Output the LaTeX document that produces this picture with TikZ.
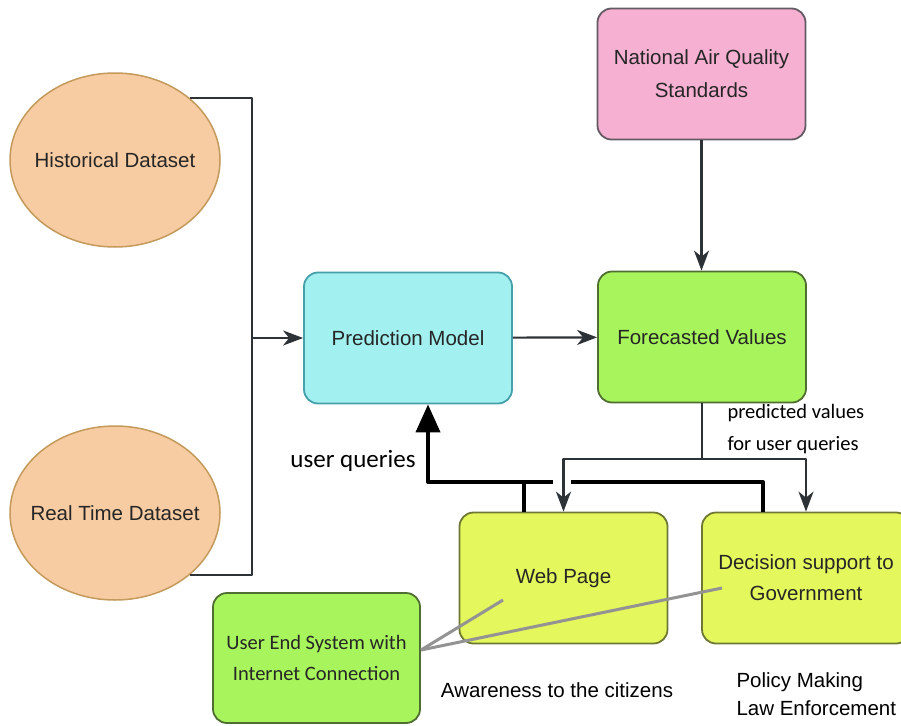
\documentclass[tikz,border=0pt]{standalone}
\usepackage{fontspec}
\setmainfont{Liberation Sans}
\newfontfamily\carl{Carlito}
\usepackage{tikz}
\usetikzlibrary{shapes.geometric,arrows.meta,calc}
\definecolor{peachf}{RGB}{248,204,162}
\definecolor{peachd}{RGB}{196,154,92}
\definecolor{cyanf}{RGB}{162,240,240}
\definecolor{cyand}{RGB}{70,160,170}
\definecolor{limef}{RGB}{168,244,92}
\definecolor{limed}{RGB}{80,110,50}
\definecolor{pinkf}{RGB}{245,176,210}
\definecolor{pinkd}{RGB}{100,90,100}
\definecolor{yelf}{RGB}{228,247,92}
\definecolor{yeld}{RGB}{110,120,50}
\definecolor{lnk}{RGB}{45,50,55}
\tikzset{l/.style={font=\fontsize{20.5}{33}\selectfont}}
\tikzset{m/.style={font=\carl\fontsize{20.5}{31.5}\selectfont}}
\tikzset{ds/.style={ellipse,draw=peachd,fill=peachf,line width=1.5pt,minimum width=210pt,minimum height=174pt,inner xsep=-40pt,inner ysep=0pt,text=black!85,l}}
\tikzset{bx/.style={draw,rounded corners=14pt,line width=1.8pt,minimum width=208pt,minimum height=131pt,align=center,inner sep=0pt,text=black!85}}
\tikzset{ln/.style={line width=2.2pt,draw=lnk,-{Stealth[length=20pt,width=15pt,inset=6pt]}}}
\tikzset{qy/.style={line width=4pt,draw=black}}
\tikzset{gl/.style={line width=3pt,draw=gray!85}}

\begin{document}
\begin{tikzpicture}[x=1pt,y=-1pt,line join=round]
  \useasboundingbox (0,0) rectangle (901,725);
  % data sources
  \node[ds] (hist) at (115,160) {Historical Dataset};
  \node[ds] (real) at (115,513) {Real Time Dataset};
  % boxes
  \node[bx,fill=cyanf,draw=cyand,l] (pred) at (408,338) {Prediction Model};
  \node[bx,fill=limef,draw=limed,l] (fore) at (702,337) {Forecasted Values};
  \node[bx,fill=pinkf,draw=pinkd,l] (naqs) at (701.5,74) {National Air Quality\\Standards};
  \node[bx,fill=yelf,draw=yeld,l] (web) at (563.5,578) {Web Page};
  \node[bx,fill=yelf,draw=yeld,l,font=\fontsize{20.5}{31}\selectfont] (dec) at (806,578) {Decision support to\\Government};
  \node[bx,fill=limef,draw=limed,m,minimum width=207pt,minimum height=130pt] (user) at (316.5,658) {User End System with\\Internet Connection};
  % labels
  \node[font=\carl\fontsize{25}{25}\selectfont] (uq) at (353,461) {user queries};
  \node[m,anchor=west,align=left] (pv) at (724,429) {predicted values\\for user queries};
  \node[l] (aw) at (557,690) {Awareness to the citizens};
  \node[anchor=west,align=left,font=\fontsize{20.5}{28}\selectfont] (pm) at (733,694) {Policy Making\\Law Enforcement};
  % inputs
  \coordinate (join) at (252,338);
  \draw[ln,-] (hist.north east) -| (join) |- (real.south east);
  \draw[ln] (join) -- (pred.west);
  \draw[ln] (pred) -- (fore);
  \draw[ln] (naqs.south) -- (naqs.south |- fore.north);
  % outputs
  \coordinate (split) at (702,459);
  \draw[ln,-] (fore.south) -- (split);
  \draw[ln] (split) -| (web.north);
  \draw[ln] (split) -| (dec.north);
  % user queries
  \coordinate (wq) at ([xshift=-40pt]web.north);
  \coordinate (dq) at ([xshift=-43pt]dec.north);
  \coordinate (gapl) at (553,482);
  \coordinate (gapr) at (571,482);
  \draw[qy] (wq) -- (wq |- gapl);
  \draw[qy] (dq) |- (gapr);
  \draw[qy,-{Triangle[length=28pt,width=24pt]}] (gapl) -| ([xshift=20pt]pred.south);
  % user end links
  \coordinate (hub) at (421,650);
  \coordinate (wend) at (503,600);
  \coordinate (dend) at (722,588);
  \draw[gl] (hub) -- (wend);
  \draw[gl] (hub) -- (dend);
\end{tikzpicture}
\end{document}
